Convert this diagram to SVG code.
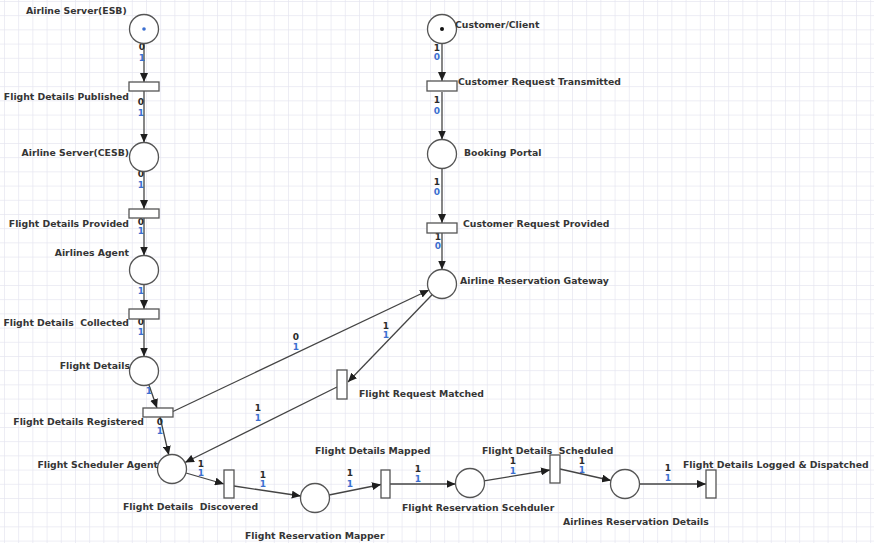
<svg xmlns="http://www.w3.org/2000/svg" width="874" height="543" viewBox="0 0 874 543">
  <style>
    .place { fill: #ffffff; stroke: #555555; stroke-width: 1.3; }
    .trans { fill: #ffffff; stroke: #555555; stroke-width: 1.3; }
    .arc { fill: none; stroke: #444444; stroke-width: 1.3; marker-end: url(#head); }
    .lbl { font-family: "DejaVu Sans", Verdana, sans-serif; font-weight: bold; font-size: 9.3px; fill: #353535; white-space: pre; }
    .end { text-anchor: end; }
    .w { font-family: "DejaVu Sans", Verdana, sans-serif; font-weight: bold; font-size: 9px; fill: #2a2a2a; text-anchor: middle; }
    .m { font-family: "DejaVu Sans", Verdana, sans-serif; font-weight: bold; font-size: 9px; fill: #3b6fd0; text-anchor: middle; }
  </style>
  <defs>
    <pattern id="grid" width="14.2" height="14.2" x="4" y="1" patternUnits="userSpaceOnUse">
      <path d="M0,0 H14.2 M0,0 V14.2" fill="none" stroke="#e6e6f1" stroke-width="1.4"/>
    </pattern>
    <marker id="head" markerUnits="userSpaceOnUse" markerWidth="9" markerHeight="8" refX="9" refY="4" orient="auto">
      <path d="M0,0 L9,4 L0,8 z" fill="#1e1e1e"/>
    </marker>
  </defs>

  <rect width="874" height="543" fill="#ffffff"/>
  <rect width="874" height="543" fill="url(#grid)"/>

  <!-- connectors -->
  <g id="arcs">
    <line class="arc" x1="144" y1="43.5" x2="144" y2="82"/>
    <line class="arc" x1="144" y1="91" x2="144" y2="142.5"/>
    <line class="arc" x1="144" y1="171.5" x2="144" y2="209"/>
    <line class="arc" x1="144" y1="218" x2="144" y2="255.5"/>
    <line class="arc" x1="144" y1="284.5" x2="144" y2="309"/>
    <line class="arc" x1="144" y1="319" x2="144" y2="356.5"/>
    <line class="arc" x1="148.8" y1="384.5" x2="157" y2="408"/>
    <line class="arc" x1="160" y1="417" x2="168.8" y2="455"/>
    <line class="arc" x1="173" y1="411.5" x2="429" y2="290"/>
    <line class="arc" x1="432.3" y1="294.5" x2="348" y2="382"/>
    <line class="arc" x1="337" y1="387" x2="185" y2="462.5"/>
    <line class="arc" x1="186" y1="473" x2="224" y2="484"/>
    <line class="arc" x1="234" y1="486" x2="300.8" y2="496"/>
    <line class="arc" x1="329" y1="495" x2="381" y2="484.5"/>
    <line class="arc" x1="390" y1="484" x2="455.5" y2="484"/>
    <line class="arc" x1="484" y1="480.8" x2="550" y2="470"/>
    <line class="arc" x1="560" y1="469" x2="611" y2="480.5"/>
    <line class="arc" x1="639.5" y1="484" x2="706" y2="484"/>
    <line class="arc" x1="442" y1="43.5" x2="442" y2="81"/>
    <line class="arc" x1="442" y1="92" x2="442" y2="139.5"/>
    <line class="arc" x1="442" y1="168.5" x2="442" y2="223"/>
    <line class="arc" x1="442" y1="233" x2="442" y2="269.5"/>
  </g>

  <!-- arc inscriptions -->
  <g id="inscriptions">
    <text class="w" x="142" y="50">0</text><text class="m" x="142" y="61">1</text>
    <text class="w" x="141" y="105">0</text><text class="m" x="141" y="116">1</text>
    <text class="w" x="141" y="177">0</text><text class="m" x="141" y="188">1</text>
    <text class="w" x="141" y="225">0</text><text class="m" x="141" y="234">1</text>
    <text class="m" x="141" y="294">1</text>
    <text class="w" x="141" y="325">0</text><text class="m" x="141" y="335">1</text>
    <text class="m" x="149" y="394">1</text>
    <text class="w" x="160" y="425">0</text><text class="m" x="160" y="434">1</text>
    <text class="w" x="296" y="340">0</text><text class="m" x="296" y="350">1</text>
    <text class="w" x="386" y="329">1</text><text class="m" x="386" y="338">1</text>
    <text class="w" x="258" y="411">1</text><text class="m" x="258" y="421">1</text>
    <text class="w" x="201" y="467">1</text><text class="m" x="201" y="476">1</text>
    <text class="w" x="263" y="478">1</text><text class="m" x="263" y="487">1</text>
    <text class="w" x="350" y="476">1</text><text class="m" x="350" y="487">1</text>
    <text class="w" x="418" y="472">1</text><text class="m" x="418" y="482">1</text>
    <text class="w" x="513" y="464">1</text><text class="m" x="513" y="474">1</text>
    <text class="w" x="582" y="464">1</text><text class="m" x="582" y="473">1</text>
    <text class="w" x="668" y="471">1</text><text class="m" x="668" y="481">1</text>
    <text class="w" x="437" y="51">1</text><text class="m" x="437" y="60">0</text>
    <text class="w" x="437" y="103">1</text><text class="m" x="437" y="114">0</text>
    <text class="w" x="437" y="185">1</text><text class="m" x="437" y="195">0</text>
    <text class="w" x="438" y="240">1</text><text class="m" x="438" y="249">0</text>
  </g>

  <!-- places -->
  <g id="p-airline-server-esb">
    <circle class="place" cx="144" cy="29" r="14.5"/>
    <circle cx="144" cy="29" r="1.8" fill="#3b6fd0"/>
    <text class="lbl" x="26" y="14">Airline Server(ESB)</text>
  </g>
  <g id="p-airline-server-cesb">
    <circle class="place" cx="144" cy="157" r="14.5"/>
    <text class="lbl end" x="129" y="156">Airline Server(CESB)</text>
  </g>
  <g id="p-airlines-agent">
    <circle class="place" cx="144" cy="270" r="14.5"/>
    <text class="lbl end" x="129" y="256">Airlines Agent</text>
  </g>
  <g id="p-flight-details">
    <circle class="place" cx="144" cy="371" r="14.5"/>
    <text class="lbl end" x="130" y="369">Flight Details</text>
  </g>
  <g id="p-flight-scheduler-agent">
    <circle class="place" cx="172" cy="469" r="14.5"/>
    <text class="lbl end" x="158" y="468">Flight Scheduler Agent</text>
  </g>
  <g id="p-flight-reservation-mapper">
    <circle class="place" cx="315" cy="498" r="14.5"/>
    <text class="lbl" x="245" y="539">Flight Reservation Mapper</text>
  </g>
  <g id="p-flight-reservation-scheduler">
    <circle class="place" cx="470" cy="483" r="14.5"/>
    <text class="lbl" x="402" y="511">Flight Reservation Scehduler</text>
  </g>
  <g id="p-airlines-reservation-details">
    <circle class="place" cx="625" cy="484" r="14.5"/>
    <text class="lbl" x="563" y="525">Airlines Reservation Details</text>
  </g>
  <g id="p-customer-client">
    <circle class="place" cx="442" cy="29" r="14.5"/>
    <circle cx="442" cy="29" r="2" fill="#111111"/>
    <text class="lbl" x="455" y="28">Customer/Client</text>
  </g>
  <g id="p-booking-portal">
    <circle class="place" cx="442" cy="154" r="14.5"/>
    <text class="lbl" x="464" y="156">Booking Portal</text>
  </g>
  <g id="p-airline-reservation-gateway">
    <circle class="place" cx="442" cy="284" r="14.5"/>
    <text class="lbl" x="460" y="284">Airline Reservation Gateway</text>
  </g>

  <!-- transitions -->
  <g id="t-flight-details-published">
    <rect class="trans" x="129" y="82" width="30" height="9"/>
    <text class="lbl end" x="129" y="100">Flight Details Published</text>
  </g>
  <g id="t-flight-details-provided">
    <rect class="trans" x="129" y="209" width="30" height="9"/>
    <text class="lbl end" x="129" y="227">Flight Details Provided</text>
  </g>
  <g id="t-flight-details-collected">
    <rect class="trans" x="129" y="309" width="30" height="10"/>
    <text class="lbl end" x="129" y="326">Flight Details  Collected</text>
  </g>
  <g id="t-flight-details-registered">
    <rect class="trans" x="143" y="408" width="30" height="9"/>
    <text class="lbl end" x="144" y="425">Flight Details Registered</text>
  </g>
  <g id="t-flight-request-matched">
    <rect class="trans" x="337" y="370" width="10" height="29"/>
    <text class="lbl" x="359" y="397">Flight Request Matched</text>
  </g>
  <g id="t-flight-details-discovered">
    <rect class="trans" x="224" y="470" width="10" height="28"/>
    <text class="lbl" x="123" y="510">Flight Details  Discovered</text>
  </g>
  <g id="t-flight-details-mapped">
    <rect class="trans" x="381" y="470" width="9" height="28"/>
    <text class="lbl" x="315" y="454">Flight Details Mapped</text>
  </g>
  <g id="t-flight-details-scheduled">
    <rect class="trans" x="550" y="455" width="10" height="28"/>
    <text class="lbl" x="482" y="454">Flight Details  Scheduled</text>
  </g>
  <g id="t-flight-details-logged">
    <rect class="trans" x="706" y="470" width="10" height="28"/>
    <text class="lbl" x="683" y="468">Flight Details Logged &amp; Dispatched</text>
  </g>
  <g id="t-customer-request-transmitted">
    <rect class="trans" x="427" y="81" width="30" height="10"/>
    <text class="lbl" x="458" y="85">Customer Request Transmitted</text>
  </g>
  <g id="t-customer-request-provided">
    <rect class="trans" x="427" y="223" width="30" height="10"/>
    <text class="lbl" x="463" y="227">Customer Request Provided</text>
  </g>
</svg>
